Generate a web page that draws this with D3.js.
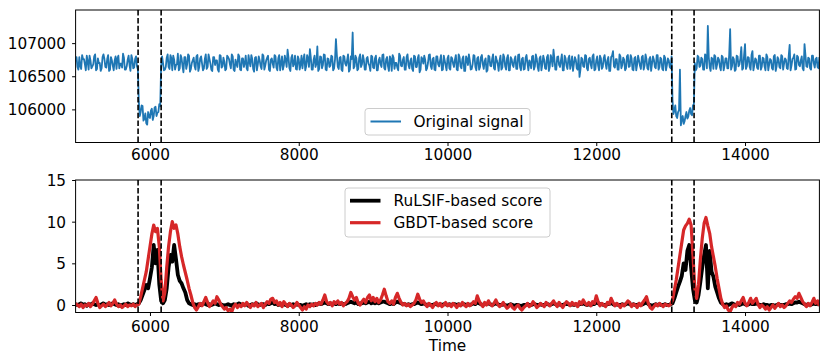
<!DOCTYPE html>
<html>
<head>
<meta charset="utf-8">
<script src="https://cdn.jsdelivr.net/npm/d3@7"></script>
<style>
  html, body { margin: 0; padding: 0; background: #fff; }
  svg { display: block; font-family: "DejaVu Sans", sans-serif; }
</style>
</head>
<body>
<svg id="chart" width="830" height="363"></svg>
<script>
// ---------------- DATA ----------------
const T_START = 5000;
const T_STEP = 25;

const xTicks = [6000, 8000, 10000, 12000, 14000];
const topYTicks = [106000, 106500, 107000];
const bottomYTicks = [0, 5, 10, 15];
const changePoints = [5840, 6150, 13015, 13315];

const topLegendLabels = ["Original signal"];
const bottomLegendLabels = ["RuLSIF-based score", "GBDT-based score"];
const xLabel = "Time";

// Original signal, samples at 5000, 5025, ..., 15000
const originalSignal = [
  106720,106640,106790,106610,106760,106680,106810,106600,106740,106650,
  106800,106590,106770,106700,106620,106830,106640,106760,106580,106790,
  106660,106740,106610,106810,106690,106630,106780,106600,106750,106670,
  106820,106620,106760,106650,
  106120,105960,106050,105860,105790,105960,105870,106010,105900,106040,105950,106080,106650,
  106700,106600,106780,106640,106820,106590,106750,106670,106840,106620,
  106770,106560,106790,106680,106810,106610,106740,106650,106800,106580,
  106770,106690,106620,106830,106640,106760,106600,106790,106670,106740,
  106570,106810,106650,106720,
  106610,106790,106680,106830,106600,106750,106640,106800,106590,106770,
  106700,106620,106820,106650,106760,106570,106790,106680,106740,106610,
  106810,106660,106780,106600,106750,106690,106820,106630,106770,106590,
  106800,106670,106740,106900,106620,106780,106650,106810,106600,106760,
  106680,106620,106830,106650,106770,106910,106600,106750,106640,106950,
  106610,106790,106670,106820,106590,106760,106660,106800,106620,107060,
  106640,106780,106600,106810,106690,106740,106570,106800,107160,106650,
  106770,106610,106830,106680,106750,106600,106790,106660,106810,106630,
  106770,106590,106740,106680,106820,106620,106760,106650,106800,106580,
  106780,106700,106630,106840,106660,106750,106600,106790,106670,106730,
  106610,106810,106640,106770,106560,106790,106690,106750,106620,106820,
  106650,106760,106600,106800,106680,106740,106590,106810,106660,106770,
  106620,106790,106690,106750,106600,106830,106650,106760,106580,106800,
  106670,106740,106610,106820,106640,106770,106600,106790,106680,106730,
  106570,106810,106660,106760,106620,106800,106690,106740,106600,106830,
  106650,106770,106590,106790,106670,106750,106610,106820,106640,106760,
  106600,106780,106690,106740,106620,106810,106650,106770,106580,106800,
  106680,106750,106610,106820,106640,106760,106900,106600,106790,106670,
  106740,106590,106810,106660,106770,106610,106800,106690,106750,106600,
  106490,106780,106650,106820,106620,106760,106680,106800,106590,106740,
  106660,106810,106610,106770,106690,106740,106580,106790,106880,106630,
  106760,106600,106800,106670,106750,106620,106820,106650,106770,106590,
  106790,106680,106740,106610,106810,106660,106760,106600,106790,106690,
  106750,106620,106820,106640,106760,106590,106780,106670,106740,106620,
  106150,105980,105900,105960,106600,105850,105780,105900,105860,105980,105930,106060,
  106700,106620,106790,106660,106760,106600,106810,107260,106640,106780,
  106610,106800,106680,106750,106590,106790,106660,106770,106620,107210,
  106650,106760,106600,106800,106680,106940,106620,106985,
  106650,106780,106600,106880,106670,106750,106610,106810,106640,106770,
  106590,106790,106680,106740,106600,106820,106650,106760,106620,106800,
  106690,106750,106610,106975,106660,106780,106600,106810,106670,106740,
  106620,106985,106650,106780,106620,106810,106690,106760,106640,106790
];

// Original signal, in-between samples at 5012.5, 5037.5, ..., 14987.5
const originalSignalMid = [
  106790,106600,106650,106820,106760,106590,106720,106810,106620,106680,
  106830,106610,106700,106580,106790,106760,106630,106820,106600,106740,
  106590,106800,106770,106620,106690,106840,106600,106650,106810,106580,
  106760,106630,106800,106600,
  105900,106060,105830,105940,105770,105890,105980,105840,106030,105900,105960,106050,
  106800,106590,106640,106830,106610,106770,106810,106600,106680,106590,
  106820,106650,106790,106610,106830,106570,106700,106780,106600,106820,
  106640,106800,106590,106760,106610,106830,106690,106580,106790,106740,
  106600,106820,106630,106780,
  106590,106810,106760,106620,106800,106580,106690,106830,106600,106770,
  106640,106810,106590,106720,106820,106610,106780,106590,106800,106650,
  106830,106600,106740,106810,106580,106770,106630,106800,106590,106820,
  106700,106600,106810,106640,106780,106580,106820,106690,106610,106800,
  106600,106810,106750,106590,106820,106640,106780,106600,106810,106690,
  106580,106800,106620,106830,106600,106770,106640,106810,106590,106750,
  106820,106610,106790,106580,106800,106660,106830,106600,106760,106620,
  106810,106590,106780,106640,106820,106600,106770,106690,106580,106800,
  106620,106810,106590,106780,106640,106830,106600,106790,106580,106760,
  106820,106610,106700,106590,106810,106650,106790,106600,106830,106620,
  106770,106580,106800,106640,106820,106600,106760,106810,106590,106700,
  106830,106610,106780,106590,106800,106650,106820,106600,106740,106590,
  106810,106600,106770,106640,106820,106590,106790,106620,106800,106580,
  106760,106830,106600,106680,106810,106590,106790,106640,106820,106610,
  106770,106590,106800,106650,106830,106600,106740,106580,106810,106630,
  106790,106600,106820,106590,106760,106640,106800,106610,106830,106590,
  106780,106610,106820,106590,106700,106800,106600,106830,106640,106770,
  106590,106810,106620,106790,106580,106820,106650,106760,106600,106800,
  106640,106830,106590,106770,106610,106810,106690,106580,106790,106620,
  106820,106600,106760,106640,106810,106590,106780,106620,106830,106600,
  106800,106590,106770,106640,106820,106610,106790,106580,106810,106650,
  106760,106600,106830,106620,106780,106590,106800,106640,106820,106600,
  106770,106590,106810,106660,106790,106600,106830,106620,106760,106580,
  106800,106640,106820,106600,106780,106610,106810,106590,106770,106640,
  106800,
  105930,106060,105870,105990,105760,105900,105820,105960,105890,106020,105910,106080,
  106590,106810,106640,106780,106600,106830,106620,106790,106580,106760,
  106820,106610,106780,106640,106810,106590,106770,106620,106830,106600,
  106790,106580,106810,106650,106770,106600,106820,
  106610,106790,106640,106820,106590,106770,106630,106810,106600,106780,
  106650,106830,106590,106760,106620,106800,106580,106790,106640,106820,
  106600,106770,106620,106810,106590,106760,106830,106610,106790,106650,
  106800,106590,106820,106640,106770,106600,106810,106630,106780,106620
];

// RuLSIF-based score (samples at 5000, 5025, ..., 15000)
const rulsifScore = [
  0.1,0.0,0.1,0.2,0.0,0.1,-0.1,0.1,0.0,0.2, 0.1,0.0,0.1,-0.1,0.1,0.2,0.0,0.1,0.0,0.1,
  0.2,0.1,0.0,0.1,-0.1,0.0,0.1,0.0,0.2,0.1, 0.0,0.1,0.0,0.1,
  0.2,0.6,1.2,1.8,2.4,2.0,3.2,4.5,7.2,5.0,6.6,2.5,0.5,
  0.2,0.6,2.0,4.5,6.0,5.2,7.2,5.5,3.6,2.9, 2.6,2.0,1.5,0.6,0.2,0.1,0.0,0.1,0.0,0.1,
  0.0,0.1,0.2,0.1,0.0,0.1,0.0,0.1,0.2,0.1, 0.0,0.1,0.0,-0.1,
  0.0,0.1,0.0,-0.1,0.1,0.0,0.1,0.2,0.0,0.1, 0.0,0.1,-0.1,0.0,0.1,0.0,0.2,0.1,0.0,0.1,
  0.1,0.0,0.2,0.1,0.2,0.3,0.1,0.2,0.0,0.1, 0.0,0.1,0.0,-0.1,0.1,0.0,0.1,0.0,0.1,0.0,
  0.0,-0.1,0.0,0.1,0.0,0.1,0.0,0.1,0.0,0.1, 0.2,0.1,0.2,0.3,0.2,0.1,0.2,0.1,0.2,0.1,
  0.2,0.1,0.2,0.1,0.1,0.2,0.3,0.4,0.3,0.2, 0.3,0.1,0.2,0.2,0.3,0.2,0.3,0.4,0.2,0.3,
  0.2,0.3,0.2,0.3,0.4,0.4,0.3,0.2,0.1,0.2, 0.1,0.3,0.4,0.3,0.2,0.1,0.1,0.0,0.1,0.0,
  0.1,0.1,0.2,0.3,0.2,0.1,0.2,0.1,0.0,0.1, 0.0,0.0,0.1,0.1,0.0,0.1,0.0,0.1,0.1,0.0,
  0.1,0.0,0.1,0.1,0.0,0.1,0.0,0.1,0.1,0.0, 0.1,0.0,0.1,0.2,0.1,0.3,0.2,0.1,0.0,0.1,
  0.1,0.2,0.1,0.0,0.1,0.2,0.1,0.0,0.0,0.1, 0.0,-0.1,0.0,0.1,0.0,-0.1,0.0,0.0,-0.1,-0.1,
  0.0,0.0,0.1,0.0,0.0,0.1,0.1,0.0,0.0,0.1, 0.0,0.0,0.1,0.1,0.0,0.1,0.2,0.1,0.0,0.1,
  0.0,0.0,0.1,0.1,0.1,0.0,0.1,0.0,0.1,0.0, 0.1,0.1,0.2,0.1,0.0,0.1,0.0,0.1,0.1,0.3,
  0.2,0.1,0.1,0.0,0.0,0.1,0.1,0.3,0.1,0.0, 0.1,0.0,0.0,0.1,0.0,0.1,0.2,0.1,0.0,0.1,
  0.0,0.0,0.1,0.0,0.1,0.2,0.3,0.1,0.0,-0.1, 0.0,0.1,0.0,0.1,0.0,0.0,0.1,0.0,0.0,0.1,
  0.2,0.8,1.5,2.2,2.8,3.5,5.0,4.2,6.5,7.2, 4.5,2.0,0.6,0.3,1.2,2.8,4.5,6.0,7.2,2.0,
  6.5,4.0,3.4,2.2,1.5,0.8,0.3,0.1,0.0,0.1, 0.0,0.1,0.2,0.1,0.0,0.1,0.0,0.1,0.2,0.1,
  0.0,0.1,0.2,0.1,0.1,0.2,0.1,0.0,0.0,0.1, 0.0,0.0,-0.1,0.0,0.0,-0.1,0.0,0.1,0.0,0.0,
  0.0,0.1,0.1,0.2,0.1,0.2,0.3,0.3,0.4,0.3, 0.2,0.1,0.0,0.1,0.0,0.1,0.2,0.1,0.2,0.0
];

// GBDT-based score (samples at 5000, 5025, ..., 15000)
const gbdtScore = [
  0.2,0.0,-0.2,0.1,-0.3,0.0,-0.1,0.2,-0.2,0.1, 0.5,0.9,0.2,-0.3,-0.1,0.1,-0.2,0.0,0.3,-0.1,
  0.2,0.6,0.1,-0.2,0.0,-0.3,-0.1,0.1,-0.2,0.0, -0.1,0.1,-0.2,0.0,
  0.1,1.0,2.0,3.0,4.0,5.5,7.0,8.5,9.6,8.8,9.2,7.0,3.0,
  0.5,1.5,4.5,7.0,8.8,10.0,9.2,9.6,8.5,7.0, 5.8,4.8,3.9,3.0,2.0,1.2,0.3,-0.3,-0.6,-0.2,
  0.2,-0.1,0.4,0.9,0.3,-0.2,0.1,0.5,0.2,1.0, 0.6,0.1,-0.2,-0.5,
  -0.3,-0.7,-0.5,-0.8,-0.2,0.1,-0.3,0.0,-0.2,0.2, -0.1,0.3,0.0,-0.3,0.1,-0.1,0.3,-0.2,0.0,0.2,
  -0.3,0.1,0.4,0.2,0.7,0.8,0.3,0.5,0.0,0.3, -0.2,0.4,0.1,-0.2,0.2,0.0,-0.3,-0.1,0.3,0.0,
  -0.3,-0.6,-0.2,-0.5,0.0,-0.2,0.1,-0.1,0.2,0.0, 0.3,0.1,0.6,1.2,0.4,0.1,0.3,-0.1,0.4,0.2,
  0.5,0.1,0.3,-0.1,0.2,0.4,0.8,1.5,1.0,0.6, 0.9,0.2,0.0,0.4,0.7,0.3,0.9,1.2,0.5,0.9,
  0.4,0.8,0.3,0.6,1.2,1.9,1.1,0.4,0.2,0.5, 0.1,0.9,1.4,0.8,0.3,0.0,0.2,-0.1,0.1,-0.2,
  0.0,0.2,0.6,1.3,0.7,0.3,0.5,0.1,-0.2,0.2, 0.0,-0.3,0.1,0.3,-0.1,0.2,-0.2,0.0,0.3,-0.1,
  0.1,-0.2,0.2,0.0,-0.3,0.1,-0.1,0.3,0.0,-0.2, 0.2,-0.1,0.1,0.4,0.2,1.1,0.5,0.1,-0.2,0.3,
  0.0,0.5,0.1,-0.1,0.2,0.6,0.1,-0.2,0.0,0.3, -0.1,-0.4,-0.2,0.1,-0.3,-0.5,-0.2,0.0,-0.4,-0.6,
  -0.3,-0.1,0.2,-0.2,0.0,0.4,0.1,-0.3,-0.1,0.2, 0.0,-0.2,0.3,0.1,-0.1,0.2,0.5,0.1,-0.2,0.3,
  0.0,-0.3,0.1,0.4,0.2,-0.1,0.3,0.0,0.2,-0.2, 0.4,0.1,0.6,0.2,0.0,0.3,-0.1,0.4,0.2,1.1,
  0.4,-0.1,0.2,0.0,-0.2,0.3,0.1,0.8,0.3,-0.1, 0.2,0.0,-0.3,0.1,-0.1,0.2,0.5,0.3,-0.2,0.1,
  0.0,-0.3,0.2,-0.1,0.3,0.6,1.0,0.2,-0.3,-0.5, -0.2,0.1,-0.1,0.2,0.0,-0.2,0.1,0.0,-0.1,0.1,
  0.6,1.8,3.0,4.5,6.0,7.5,9.0,9.5,9.8,10.3, 9.6,6.0,2.0,0.8,2.5,5.5,8.0,9.8,10.5,9.5,
  8.6,7.0,5.8,4.6,3.2,2.0,0.8,0.1,-0.3,-0.1, -0.6,-0.8,-0.3,0.0,-0.2,0.3,0.1,0.5,0.9,0.2,
  -0.1,0.3,0.8,0.2,0.5,0.8,0.1,-0.3,0.0,-0.2, -0.5,-0.2,-0.6,-0.3,0.0,-0.4,-0.1,0.2,-0.2,0.0,
  -0.3,-0.1,0.2,0.5,0.3,0.7,1.0,0.8,1.4,0.9, 0.4,0.1,-0.2,0.2,-0.1,0.3,0.8,0.2,0.5,-0.1
];

// ---------------- DRAW ----------------
if (originalSignal.length !== 401 || originalSignalMid.length !== 400 ||
    rulsifScore.length !== 401 || gbdtScore.length !== 401) {
  throw new Error("length mismatch " + originalSignal.length + " " + originalSignalMid.length + " " +
    rulsifScore.length + " " + gbdtScore.length);
}
const time = originalSignal.map((_, i) => T_START + i * T_STEP);

// combine the two interleaved sample sets of the original signal
const signalPoints = [];
originalSignal.forEach((v, i) => {
  signalPoints.push([time[i], v]);
  if (i < originalSignalMid.length) signalPoints.push([time[i] + T_STEP / 2, originalSignalMid[i]]);
});

const svg = d3.select("#chart");
const FS = 15.3;
const left = 75.6, right = 819.4;
const topPanel = { y0: 10, y1: 142.5 };
const botPanel = { y0: 180, y1: 312.5 };

const x = d3.scaleLinear().domain([5000, 15000]).range([left, right]);
const yTop = d3.scaleLinear().domain([105500, 107500]).range([topPanel.y1, topPanel.y0]);
const yBot = d3.scaleLinear().domain([-0.9, 15]).range([botPanel.y1, botPanel.y0]);

const defs = svg.append("defs");
function clip(id, p) {
  defs.append("clipPath").attr("id", id).append("rect")
    .attr("x", left).attr("y", p.y0).attr("width", right - left).attr("height", p.y1 - p.y0);
}
clip("clipTop", topPanel);
clip("clipBot", botPanel);

function drawAxes(p, yScale, yTicks, labelBaseline) {
  const g = svg.append("g");
  const xa = g.append("g").attr("transform", `translate(0,${p.y1})`)
    .call(d3.axisBottom(x).tickValues(xTicks).tickSize(3.5).tickPadding(3.5).tickFormat(d3.format("d")));
  xa.select(".domain").remove();
  xa.selectAll("line").attr("stroke", "#000").attr("stroke-width", 1);
  xa.selectAll("text").attr("font-size", FS).attr("fill", "#000")
    .attr("font-family", "DejaVu Sans").attr("y", labelBaseline).attr("dy", null);
  const ya = g.append("g").attr("transform", `translate(${left},0)`)
    .call(d3.axisLeft(yScale).tickValues(yTicks).tickSize(3.5).tickPadding(6).tickFormat(d3.format("d")));
  ya.select(".domain").remove();
  ya.selectAll("line").attr("stroke", "#000").attr("stroke-width", 1);
  ya.selectAll("text").attr("font-size", FS).attr("fill", "#000")
    .attr("font-family", "DejaVu Sans").attr("dy", "0.36em");
  return g;
}

function frame(p) {
  svg.append("rect").attr("x", left).attr("y", p.y0)
    .attr("width", right - left).attr("height", p.y1 - p.y0)
    .attr("fill", "none").attr("stroke", "#000").attr("stroke-width", 1);
}

function vlines(p, clipId) {
  svg.append("g").attr("clip-path", `url(#${clipId})`)
    .selectAll("line").data(changePoints).join("line")
    .attr("x1", d => x(d)).attr("x2", d => x(d))
    .attr("y1", p.y0).attr("y2", p.y1)
    .attr("stroke", "#000").attr("stroke-width", 1.6)
    .attr("stroke-dasharray", "5.5,2.4");
}

// ---- top panel ----
const lineTop = d3.line().x(d => x(d[0])).y(d => yTop(d[1]));
svg.append("path").datum(signalPoints)
  .attr("clip-path", "url(#clipTop)")
  .attr("d", lineTop).attr("fill", "none")
  .attr("stroke", "#1f77b4").attr("stroke-width", 1.8).attr("stroke-linejoin", "round");
vlines(topPanel, "clipTop");
drawAxes(topPanel, yTop, topYTicks, 17.8);
frame(topPanel);

// top legend
{
  const lg = svg.append("g");
  lg.append("rect").attr("x", 365).attr("y", 108.5).attr("width", 165).attr("height", 26.5)
    .attr("rx", 3).attr("fill", "#fff").attr("fill-opacity", 0.8)
    .attr("stroke", "#cccccc").attr("stroke-width", 1);
  lg.append("line").attr("x1", 370.5).attr("x2", 401).attr("y1", 121.5).attr("y2", 121.5)
    .attr("stroke", "#1f77b4").attr("stroke-width", 2);
  lg.append("text").attr("x", 413.5).attr("y", 127).attr("font-size", FS).attr("fill", "#000")
    .text(topLegendLabels[0]);
}

// ---- bottom panel ----
const lineBot = d3.line().x((d, i) => x(time[i])).y(d => yBot(d));
svg.append("path").datum(rulsifScore)
  .attr("clip-path", "url(#clipBot)")
  .attr("d", lineBot).attr("fill", "none")
  .attr("stroke", "#000").attr("stroke-width", 3.8).attr("stroke-linejoin", "round");
svg.append("path").datum(gbdtScore)
  .attr("clip-path", "url(#clipBot)")
  .attr("d", lineBot).attr("fill", "none")
  .attr("stroke", "#d62728").attr("stroke-width", 3.2).attr("stroke-linejoin", "round");
vlines(botPanel, "clipBot");
drawAxes(botPanel, yBot, bottomYTicks, 19.8);
frame(botPanel);

// bottom legend
{
  const lg = svg.append("g");
  lg.append("rect").attr("x", 345).attr("y", 188).attr("width", 205).attr("height", 49)
    .attr("rx", 3).attr("fill", "#fff").attr("fill-opacity", 0.8)
    .attr("stroke", "#cccccc").attr("stroke-width", 1);
  const colors = ["#000", "#d62728"];
  const widths = [3.8, 3.2];
  const ys = [200.7, 222.7];
  bottomLegendLabels.forEach((lab, i) => {
    lg.append("line").attr("x1", 350).attr("x2", 380.5).attr("y1", ys[i]).attr("y2", ys[i])
      .attr("stroke", colors[i]).attr("stroke-width", widths[i]);
    lg.append("text").attr("x", 393.5).attr("y", ys[i] + 5.5).attr("font-size", FS)
      .attr("fill", "#000").text(lab);
  });
}

// x label
svg.append("text").attr("x", (left + right) / 2).attr("y", 350.7)
  .attr("text-anchor", "middle").attr("font-size", FS).attr("fill", "#000").text(xLabel);
</script>
</body>
</html>
